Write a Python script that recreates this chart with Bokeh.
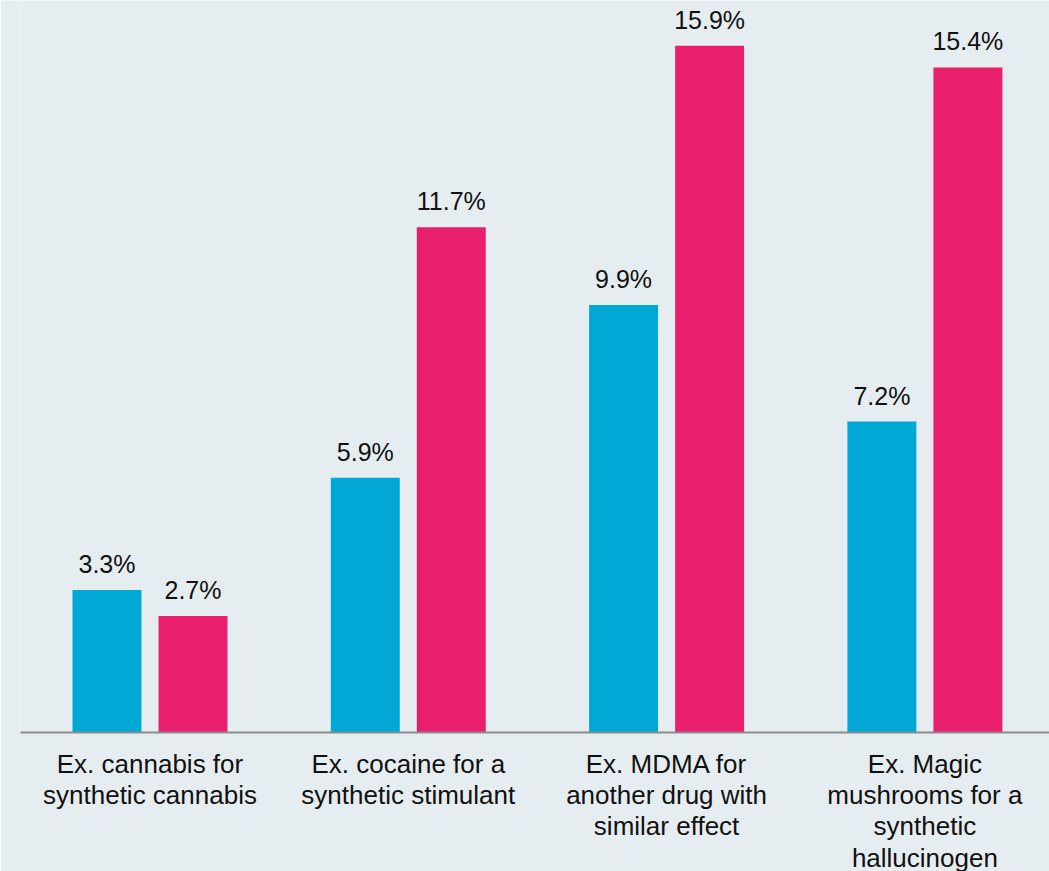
from bokeh.plotting import figure
from bokeh.models import Range1d, FixedTicker, ColumnDataSource, LabelSet
from bokeh.core.properties import value
from bokeh.embed import file_html
from bokeh.resources import INLINE

categories = ["Ex. cannabis for\nsynthetic cannabis",
              "Ex. cocaine for a\nsynthetic stimulant",
              "Ex. MDMA for\nanother drug with\nsimilar effect",
              "Ex. Magic\nmushrooms for a\nsynthetic\nhallucinogen"]
series_a = [3.3, 5.9, 9.9, 7.2]
series_b = [2.7, 11.7, 15.9, 15.4]

BLUE = "#00a8d6"
PINK = "#e91f6e"
BG = "#e5edf0"

xs = list(range(len(categories)))
off = 0.1665
bw = 0.267

src_a = ColumnDataSource(dict(x=[x - off for x in xs], top=series_a,
                              lbl=[f"{v:.1f}%" for v in series_a]))
src_b = ColumnDataSource(dict(x=[x + off for x in xs], top=series_b,
                              lbl=[f"{v:.1f}%" for v in series_b]))

p = figure(frame_width=1029, frame_height=732, output_backend="svg", toolbar_location=None,
           x_range=Range1d(-0.5013, 3.4824), y_range=Range1d(0, 16.95),
           min_border_left=20, min_border_right=0, min_border_top=0, min_border_bottom=0)
p.background_fill_color = BG
p.border_fill_color = BG
p.outline_line_color = None
p.grid.visible = False
p.yaxis.visible = False

p.vbar(x="x", top="top", width=bw, bottom=0, source=src_a, fill_color=BLUE, line_color=None)
p.vbar(x="x", top="top", width=bw, bottom=0, source=src_b, fill_color=PINK, line_color=None)

for src in (src_a, src_b):
    p.add_layout(LabelSet(x="x", y="top", text="lbl", source=src, text_align="center",
                          text_baseline="alphabetic", y_offset=17,
                          text_font=value("Liberation Sans"),
                          text_font_size=value("25px"), text_color="#111111"))

ax = p.xaxis[0]
ax.ticker = FixedTicker(ticks=xs)
ax.major_label_overrides = {i: c for i, c in zip(xs, categories)}
ax.major_tick_line_color = None
ax.minor_tick_line_color = None
ax.axis_line_color = "#8c8c8c"
ax.axis_line_width = 2
ax.major_label_text_font = "Liberation Sans"
ax.major_label_text_font_size = "26px"
ax.major_label_text_color = "#111111"
ax.major_label_standoff = 10
ax.major_label_text_line_height = 1.045

open("out.html", "w").write(file_html(p, INLINE))
